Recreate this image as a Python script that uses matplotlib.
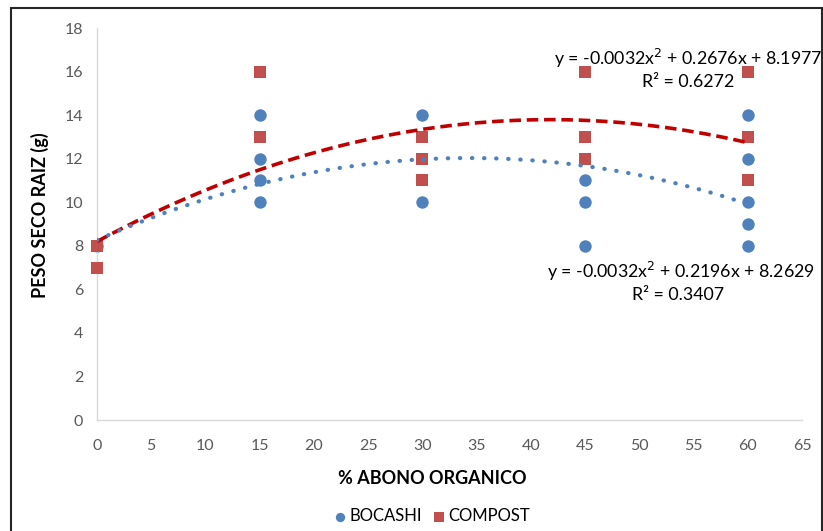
import numpy as np
import matplotlib
matplotlib.use('Agg')
import matplotlib.pyplot as plt
from matplotlib.patches import Rectangle

plt.rcParams['font.family'] = ['Lato', 'DejaVu Sans']

# ===== data =====
bocashi_x = [0, 15, 15, 15, 15, 30, 30, 45, 45, 45, 60, 60, 60, 60, 60]
bocashi_y = [8, 14, 12, 11, 10, 14, 10, 11, 10, 8, 14, 12, 10, 9, 8]
compost_x = [0, 0, 15, 15, 30, 30, 30, 45, 45, 45, 60, 60, 60]
compost_y = [8, 7, 16, 13, 13, 12, 11, 16, 13, 12, 16, 13, 11]

# polynomial trendline coefficients (a*x^2 + b*x + c) as printed on the chart
bocashi_coef = [-0.0032, 0.2196, 8.2629]
compost_coef = [-0.0032, 0.2676, 8.1977]
bocashi_eq = ['y = -0.0032x$^2$ + 0.2196x + 8.2629', 'R² = 0.3407']
compost_eq = ['y = -0.0032x$^2$ + 0.2676x + 8.1977', 'R² = 0.6272']

x_ticks = list(range(0, 70, 5))
y_ticks = list(range(0, 20, 2))

blue = '#4F81BD'
red = '#C0504D'
W, H = 823, 531


def px(x, y):
    """pixel position -> figure fraction"""
    return x / W, 1 - y / H


def main():
    fig = plt.figure(figsize=(W / 100, H / 100), dpi=100)
    l, b = px(97, 420)
    r, t = px(802, 28)
    ax = fig.add_axes([l, b, r - l, t - b])

    ax.scatter(bocashi_x, bocashi_y, s=80, marker='o', color=blue, zorder=2, label='BOCASHI',
               linewidths=0, clip_on=False)
    ax.scatter(compost_x, compost_y, s=75, marker='s', color=red, zorder=3, label='COMPOST',
               linewidths=0, clip_on=False)

    # trendlines
    xs = np.linspace(0, 60, 200)
    ax.plot(xs, np.polyval(compost_coef, xs), color='#C00000', lw=2.6, dashes=(3.2, 1.6), zorder=4)
    ax.plot(xs, np.polyval(bocashi_coef, xs), color=blue, lw=3.0, dashes=(0.1, 2.8),
            dash_capstyle='round', zorder=5)

    ax.set_xlim(0, 65)
    ax.set_ylim(0, 18)
    ax.set_xticks(x_ticks)
    ax.set_yticks(y_ticks)
    ax.tick_params(axis='both', length=0, labelsize=11.5, labelcolor='#595959')
    ax.tick_params(axis='x', pad=14)
    ax.tick_params(axis='y', pad=10)
    for s in ['top', 'right']:
        ax.spines[s].set_visible(False)
    for s in ['left', 'bottom']:
        ax.spines[s].set_color('#D9D9D9')
        ax.spines[s].set_linewidth(1)

    fig.text(*px(40, 215), 'PESO SECO RAIZ (g)', rotation=90, ha='center', va='center',
             fontsize=13, fontweight='bold')
    fig.text(*px(432, 479), '% ABONO ORGANICO', ha='center', va='center',
             fontsize=13, fontweight='bold')

    # equations
    fig.text(*px(554, 58), compost_eq[0], ha='left', va='center', fontsize=12.8)
    fig.text(*px(688, 82), compost_eq[1], ha='center', va='center', fontsize=12.8)
    fig.text(*px(547, 271), bocashi_eq[0], ha='left', va='center', fontsize=12.8)
    fig.text(*px(678, 295), bocashi_eq[1], ha='center', va='center', fontsize=12.8)

    fig.legend(loc='center', bbox_to_anchor=px(430, 516), ncol=2, frameon=False,
               fontsize=12, handletextpad=0.0, columnspacing=0.4, markerscale=0.75,
               handlelength=1.2)

    # outer frame
    x0, y0 = px(11, 531)
    x1, y1 = px(822, 8)
    fig.patches.append(Rectangle((x0, y0 - 0.02), x1 - x0, y1 - y0 + 0.02, transform=fig.transFigure,
                                 fill=False, edgecolor='#262626', lw=1.5))

    fig.savefig('out.png', dpi=100)


if __name__ == '__main__':
    main()
